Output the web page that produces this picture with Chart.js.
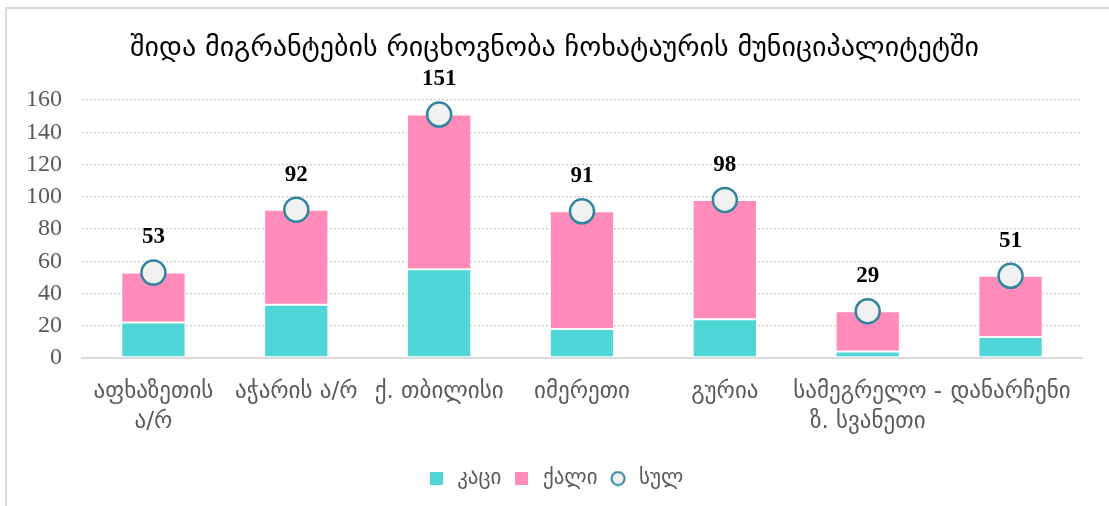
<!DOCTYPE html>
<html>
<head>
<meta charset="utf-8">
<script src="https://cdn.jsdelivr.net/npm/chart.js@4/dist/chart.umd.min.js"></script>
<style>
  html, body { margin: 0; padding: 0; background: #ffffff; }
  #wrap { position: relative; width: 1109px; height: 506px; overflow: hidden; }
  #frame { position: absolute; left: 5px; top: 7px; width: 1110px; height: 510px;
           border-left: 2px solid #d9d9d9; border-top: 2px solid #d9d9d9; box-sizing: border-box; }
  #c { position: absolute; left: 0; top: 0; }
</style>
</head>
<body>
<div id="wrap">
  <div id="frame"></div>
  <canvas id="c" width="1109" height="506"></canvas>
</div>
<script>
const titleText = "შიდა მიგრანტების რიცხოვნობა ჩოხატაურის მუნიციპალიტეტში";
const categories = [
  ["აფხაზეთის", "ა/რ"],
  "აჭარის ა/რ",
  "ქ. თბილისი",
  "იმერეთი",
  "გურია",
  ["სამეგრელო -", "ზ. სვანეთი"],
  "დანარჩენი"
];
const seriesNames = ["კაცი", "ქალი", "სულ"];
const men   = [22, 33, 55, 18, 24, 4, 13];
const women = [31, 59, 96, 73, 74, 25, 38];
const total = [53, 92, 151, 91, 98, 29, 51];
const yTicks = [0, 20, 40, 60, 80, 100, 120, 140, 160];

const colMen = '#50d6d6';
const colWomen = '#ff8bba';
const colTotalFill = '#f1f1f1';
const colTotalLine = '#2f859e';

const geoFont = "'DejaVu Sans', 'Noto Sans', sans-serif";
const numFont = "'Liberation Serif', 'DejaVu Serif', serif";

function squareMarker(color) {
  const cv = document.createElement('canvas');
  cv.width = 13; cv.height = 13;
  const g = cv.getContext('2d');
  g.fillStyle = color;
  g.fillRect(0, 0, 13, 13);
  return cv;
}
function circleMarker(fill, stroke) {
  const cv = document.createElement('canvas');
  cv.width = 16; cv.height = 16;
  const g = cv.getContext('2d');
  g.beginPath();
  g.arc(8, 8, 6.5, 0, Math.PI * 2);
  g.fillStyle = fill; g.fill();
  g.lineWidth = 2; g.strokeStyle = stroke; g.stroke();
  return cv;
}

const totalLabels = {
  id: 'totalLabels',
  afterDatasetsDraw(chart) {
    const ctx = chart.ctx;
    const meta = chart.getDatasetMeta(2);
    ctx.save();
    ctx.font = "bold 23px " + numFont;
    ctx.fillStyle = "#000000";
    ctx.textAlign = "center";
    ctx.textBaseline = "middle";
    meta.data.forEach((pt, i) => {
      ctx.fillText(String(chart.data.datasets[2].data[i]), pt.x, pt.y - 35);
    });
    ctx.restore();
  }
};

new Chart(document.getElementById('c'), {
  data: {
    labels: categories,
    datasets: [
      {
        type: 'bar', label: seriesNames[0], data: men, stack: 'a', order: 1,
        backgroundColor: colMen, borderColor: '#ffffff', borderWidth: 1,
        borderSkipped: false, barPercentage: 0.45, categoryPercentage: 1.0,
        pointStyle: squareMarker(colMen)
      },
      {
        type: 'bar', label: seriesNames[1], data: women, stack: 'a', order: 1,
        backgroundColor: colWomen, borderColor: '#ffffff', borderWidth: 1,
        borderSkipped: false, barPercentage: 0.45, categoryPercentage: 1.0,
        pointStyle: squareMarker(colWomen)
      },
      {
        type: 'line', label: seriesNames[2], data: total, stack: 'total', order: 0,
        showLine: false, pointRadius: 12, pointHoverRadius: 12,
        pointBackgroundColor: colTotalFill, pointBorderColor: colTotalLine, pointBorderWidth: 2.5,
        backgroundColor: colTotalFill, borderColor: colTotalLine, borderWidth: 2.2,
        pointStyle: 'circle'
      }
    ]
  },
  options: {
    responsive: false,
    animation: false,
    layout: { padding: { left: 0, right: 0, top: 0, bottom: 7 } },
    scales: {
      x: {
        stacked: true,
        grid: { display: false, drawTicks: false },
        border: { display: true, color: '#d9d9d9', width: 2 },
        ticks: {
          color: '#595959', font: { family: geoFont, size: 23, lineHeight: 1.3 },
          padding: 19, maxRotation: 0, minRotation: 0, autoSkip: false
        },
        afterFit(scale) { scale.height = 100; }
      },
      y: {
        stacked: true, min: 0, max: 160,
        afterBuildTicks(scale) { scale.ticks = yTicks.map(v => ({ value: v })); },
        grid: { color: '#c9c9c9', lineWidth: 1.3, drawTicks: false },
        border: { display: false, dash: [2, 2] },
        ticks: { color: '#595959', font: { family: numFont, size: 24 }, padding: 20 },
        afterFit(scale) { scale.width = 82; }
      },
      yRight: {
        position: 'right', display: true, min: 0, max: 160,
        grid: { display: false, drawTicks: false },
        border: { display: false },
        ticks: { display: false },
        afterFit(scale) { scale.width = 27; }
      }
    },
    plugins: {
      title: {
        display: true, text: titleText, color: '#000000',
        font: { family: geoFont, size: 28, weight: 'normal', lineHeight: 1.2 },
        padding: { top: 32, bottom: 34.4 }
      },
      legend: {
        display: true, position: 'bottom',
        labels: {
          usePointStyle: true, boxHeight: 10, color: '#595959',
          font: { family: geoFont, size: 21 }, padding: 10,
          sort: (a, b) => a.datasetIndex - b.datasetIndex,
          generateLabels(chart) {
            const items = Chart.defaults.plugins.legend.labels.generateLabels(chart);
            items.forEach(it => {
              if (it.datasetIndex === 2) it.pointStyle = circleMarker(colTotalFill, colTotalLine);
            });
            return items;
          }
        }
      },
      tooltip: { enabled: false }
    }
  },
  plugins: [totalLabels]
});
</script>
</body>
</html>
